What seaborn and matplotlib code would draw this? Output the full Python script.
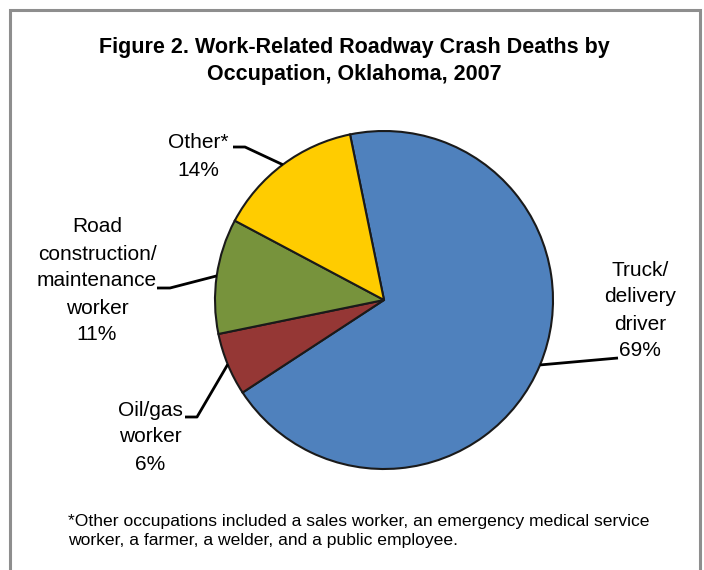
import matplotlib
matplotlib.use("Agg")
import matplotlib.pyplot as plt
import seaborn as sns
import numpy as np
from matplotlib.font_manager import fontManager

# ---- data ----
categories = ["Truck/\ndelivery\ndriver", "Oil/gas\nworker", "Road\nconstruction/\nmaintenance\nworker", "Other*"]
percents = [69, 6, 11, 14]
colors = ["#4F81BD", "#953735", "#77933C", "#FFCC00"]
title = "Figure 2. Work-Related Roadway Crash Deaths by\nOccupation, Oklahoma, 2007"
footnote = ("*Other occupations included a sales worker, an emergency medical service\n"
            "worker, a farmer, a welder, and a public employee.")

sns.set_theme(style="white")
names = {f.name for f in fontManager.ttflist}
fam = [f for f in ["Liberation Sans Narrow", "Liberation Sans", "DejaVu Sans"] if f in names]
plt.rcParams["font.family"] = fam

W, H = 704, 570
fig = plt.figure(figsize=(W / 100, H / 100), dpi=100)
fig.patch.set_facecolor("white")
ax = fig.add_axes([0, 0, 1, 1])

cx, cy, r = 384, H - 300, 169
start = 101.6
wedges, _ = ax.pie(percents, colors=colors, startangle=start, counterclock=False,
                   center=(cx, cy), radius=r, frame=True,
                   wedgeprops=dict(edgecolor="#1a1a1a", linewidth=1.5))
ax.set_xlim(0, W)
ax.set_ylim(0, H)
ax.axis("off")

# border frame (open at bottom)
ax.plot([9.5, 9.5, 699.5, 699.5], [0, H - 9.5, H - 9.5, 0], color="#8E8E8E", lw=2.2,
        solid_joinstyle="miter", zorder=1)

# labels: (text center x, first-line y in pixels, elbow point, line end x)
label_layout = [
    dict(tx=640, ty=270, elbow=(618, 358), end=None),
    dict(tx=150, ty=410, elbow=(197, 417), end=185),
    dict(tx=97, ty=227, elbow=(170, 288), end=157),
    dict(tx=198, ty=143, elbow=(245, 147), end=233),
]
fs = 15
for w, name, p, lay in zip(wedges, categories, percents, label_layout):
    mid = np.deg2rad((w.theta1 + w.theta2) / 2)
    ex, ey = cx + r * np.cos(mid), cy + r * np.sin(mid)
    lines = name.split("\n") + [f"{p}%"]
    for i, ln in enumerate(lines):
        ax.text(lay["tx"], H - (lay["ty"] + i * 27), ln, ha="center", va="center",
                fontsize=fs, color="black")
    bx, by = lay["elbow"]
    xs = [ex, bx]
    ys = [ey, H - by]
    if lay["end"] is not None:
        xs.append(lay["end"])
        ys.append(H - by)
    ax.plot(xs, ys, color="black", lw=2, solid_capstyle="butt", zorder=3)

ax.text(354, H - 61, title, ha="center", va="center", fontsize=15.5, fontweight="bold",
        color="black", linespacing=1.35)
ax.text(68, H - 531, footnote, ha="left", va="center", fontsize=12.6, color="black",
        linespacing=1.4)

fig.savefig("out.png", dpi=100, facecolor="white")
